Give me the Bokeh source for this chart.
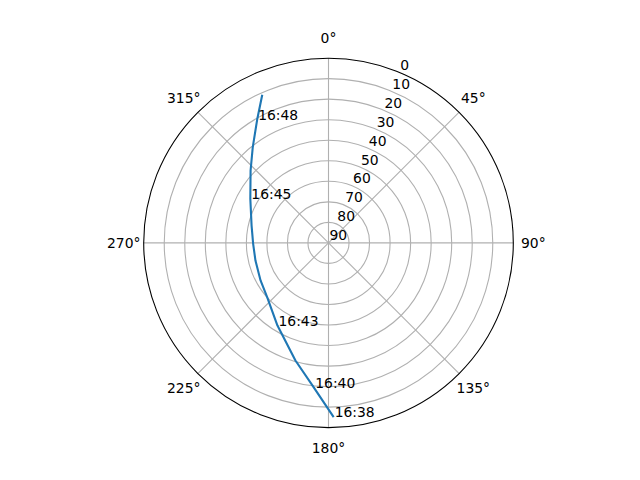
import numpy as np
from bokeh.plotting import figure
from bokeh.models import Range1d
from bokeh.embed import file_html
from bokeh.resources import INLINE
from bokeh.core.properties import value

# ---- data ----
azimuth_deg = [178.3, 185.6, 195.7, 211.7, 228.5, 241.1, 256.4, 269.3,
               282.7, 299.4, 312.9, 321.6, 329.9, 335.9]
elevation_deg = [5.1, 18.9, 30.5, 42.7, 50.1, 52.2, 53.4, 53.3,
                 51.6, 46.3, 38.2, 30.6, 20.7, 11.0]
time_label_index = [0, 1, 3, 9, 12]
time_labels = ["16:38", "16:40", "16:43", "16:45", "16:48"]
elevation_ticks = [0, 10, 20, 30, 40, 50, 60, 70, 80, 90]
azimuth_ticks = [0, 45, 90, 135, 180, 225, 270, 315]
azimuth_tick_labels = ["0°", "45°", "90°", "135°", "180°", "225°", "270°", "315°"]

# ---- layout constants ----
R = 184.8            # outer radius (elevation 0)
RLABEL_ANGLE = 22.5  # angle of the radial tick labels
FONT = value("DejaVu Sans")
FS = value("13.9px")
GRID = "#b0b0b0"


def polar(az, el):
    az = np.radians(np.asarray(az, dtype=float))
    r = (90.0 - np.asarray(el, dtype=float)) / 90.0 * R
    return r * np.sin(az), r * np.cos(az)


p = figure(width=624, height=464, output_backend="svg", toolbar_location=None,
           x_axis_location=None, y_axis_location=None, min_border=0,
           x_range=Range1d(-328, 296), y_range=Range1d(-221.6, 242.4),
           outline_line_color=None)
p.xgrid.visible = False
p.ygrid.visible = False
p.background_fill_color = "white"
p.border_fill_color = "white"

# elevation rings
ring_el = elevation_ticks[1:-1]
ring_r = [(90 - e) / 90 * R for e in ring_el]
p.circle(x=[0] * len(ring_r), y=[0] * len(ring_r), radius=ring_r,
         fill_color=None, line_color=GRID, line_width=1.1)

# azimuth spokes
sx, sy = polar(azimuth_ticks, [0] * len(azimuth_ticks))
p.segment(x0=[0] * len(sx), y0=[0] * len(sy), x1=sx, y1=sy,
          line_color=GRID, line_width=1.1)

# outer spine
p.circle(x=[0], y=[0], radius=[R], fill_color=None, line_color="black", line_width=1.1)

# track
tx, ty = polar(azimuth_deg, elevation_deg)
p.line(tx, ty, line_color="#1f77b4", line_width=2.1)

# time labels (text sits on the point, like a baseline-anchored annotation)
lx = [tx[i] for i in time_label_index]
ly = [ty[i] + 5 for i in time_label_index]
p.text(x=lx, y=ly, text=time_labels, text_font=FONT, text_font_size=FS,
       text_align="left", text_baseline="middle", x_offset=1, text_color="black")

# elevation tick labels
ex, ey = polar([RLABEL_ANGLE] * len(elevation_ticks), elevation_ticks)
p.text(x=ex, y=ey + 7.5, text=[str(e) for e in elevation_ticks], text_font=FONT,
       text_font_size=FS, text_align="left", text_baseline="middle",
       x_offset=1, text_color="black")

# azimuth tick labels
az_r = R + 20
ax_ = [az_r * np.sin(np.radians(a)) for a in azimuth_ticks]
ay_ = [az_r * np.cos(np.radians(a)) for a in azimuth_ticks]
p.text(x=ax_, y=ay_, text=azimuth_tick_labels, text_font=FONT, text_font_size=FS,
       text_align="center", text_baseline="middle", text_color="black")

open("out.html", "w").write(file_html(p, INLINE))
